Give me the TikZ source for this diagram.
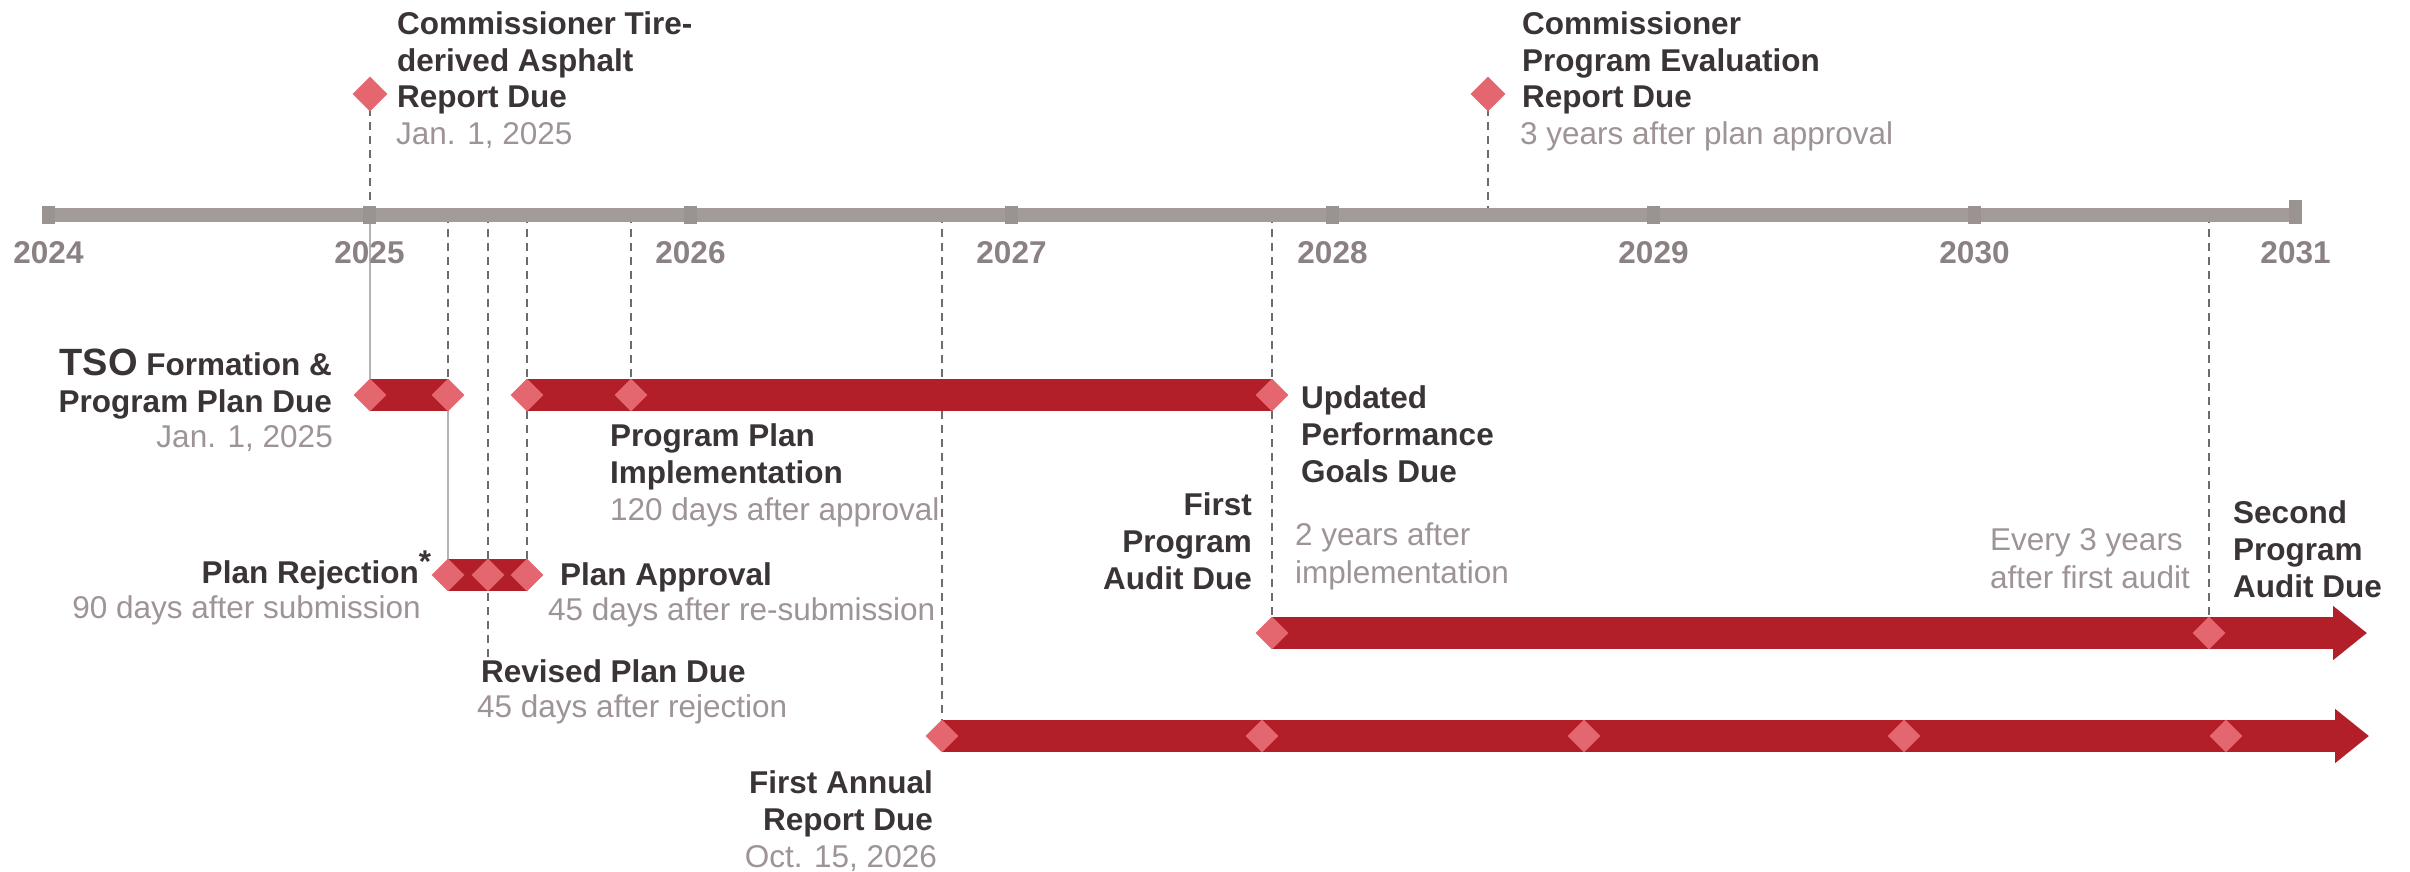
\documentclass[tikz,border=0pt]{standalone}
\usepackage{fontspec}
\setmainfont{Liberation Sans}
\usetikzlibrary{shapes.geometric,arrows.meta,calc}
\definecolor{barred}{RGB}{179,31,41}
\definecolor{diafill}{RGB}{228,102,111}
\definecolor{axiscol}{RGB}{163,154,154}
\definecolor{tickcol}{RGB}{155,146,146}
\definecolor{yearcol}{RGB}{140,129,130}
\definecolor{darktext}{RGB}{58,52,53}
\definecolor{graytext}{RGB}{158,148,149}
\definecolor{dashcol}{RGB}{108,108,108}
\definecolor{solidcol}{RGB}{180,180,180}
\begin{document}
\begin{tikzpicture}[x=1pt,y=-1pt,
  bold/.style={font=\fontsize{31.5}{36.8}\selectfont\bfseries, text=darktext, inner sep=0pt},
  sub/.style={font=\fontsize{31.5}{37.5}\selectfont, text=graytext, inner sep=0pt},
  yr/.style={font=\fontsize{31.5}{36}\selectfont\bfseries, text=yearcol, inner sep=0pt, anchor=base},
  dia/.style={shape=diamond, fill=diafill, minimum width=33pt, minimum height=33pt, inner sep=0pt},
  bigdia/.style={dia, minimum width=35pt, minimum height=35pt},
  bar/.style={draw=barred, line width=32pt, line cap=butt},
  dline/.style={draw=dashcol, line width=2.2pt, dash pattern=on 8pt off 6pt},
  sline/.style={draw=solidcol, line width=2.4pt},
  tick/.style={shape=rectangle, fill=tickcol, minimum width=13pt, minimum height=18pt, inner sep=0pt},
]
\useasboundingbox (0,0) rectangle (2410,872);
\fill[white] (0,0) rectangle (2410,872);

% ---------- coordinates ----------
\foreach \yr [count=\i from 0] in {2024,...,2031}
  \coordinate (ax\yr) at ({48.5+321*\i},215);
\foreach \x in {370,448,488,527,631,942,1272,1488,2209}
  \coordinate (a\x) at (\x,215);
\coordinate (pTire) at (370,94);
\coordinate (pEval) at (1488,94);
\coordinate (pTso1) at (370,395);
\coordinate (pTso2) at (448,395);
\coordinate (pImp0) at (527,395);
\coordinate (pImp1) at (631,395);
\coordinate (pImp2) at (1272,395);
\coordinate (pRej1) at (448,575);
\coordinate (pRej2) at (488,575);
\coordinate (pRej3) at (527,575);
\coordinate (pRevEnd) at (488,657);
\coordinate (pAud1) at (1272,633);
\coordinate (pAud2) at (2209,633);
\coordinate (pAudTip) at (2367,633);
\coordinate (pAnn1) at (942,736);
\coordinate (pAnn2) at (1262,736);
\coordinate (pAnn3) at (1584,736);
\coordinate (pAnn4) at (1904,736);
\coordinate (pAnn5) at (2226,736);
\coordinate (pAnnTip) at (2369,736);

% ---------- vertical guide lines ----------
\draw[dline] (pTire) -- (a370);
\draw[dline] (pEval) -- (a1488);
\draw[sline] (a370) -- (pTso1);
\draw[dline] (a448) -- (pTso2);
\draw[sline] (pTso2) -- (pRej1);
\draw[dline] (a488) -- (pRevEnd);
\draw[dline] (a527) -- (pRej3);
\draw[dline] (a631) -- (pImp1);
\draw[dline] (a942) -- (pAnn1);
\draw[dline] (a1272) -- (pAud1);
\draw[dline] (a2209) -- (pAud2);

% ---------- axis ----------
\draw[draw=axiscol, line width=14pt] (ax2024) -- (ax2031);
\foreach \yr in {2024,...,2030}
  \node[tick] (tk\yr) at (ax\yr) {};
\node[tick, minimum height=24pt] (tk2031) at ($(ax2031)+(0,-3)$) {};
\foreach \yr [count=\i from 0] in {2024,...,2031}
  \node[yr] (lab\yr) at ({48.5+321*\i},263) {\yr};

% ---------- bars ----------
\draw[bar] (pTso1) -- (pTso2);
\draw[bar] (pImp0) -- (pImp2);
\draw[bar] (pRej1) -- (pRej3);
\draw[bar, -{Triangle[length=34pt, width=52pt]}] (pAud1) -- (pAudTip);
\draw[bar, -{Triangle[length=34pt, width=52pt]}] (pAnn1) -- (pAnnTip);

% ---------- diamonds ----------
\node[bigdia] (dTire) at (pTire) {};
\node[bigdia] (dEval) at (pEval) {};
\node[dia] (dTso1) at (pTso1) {};
\node[dia] (dTso2) at (pTso2) {};
\node[dia] (dImp0) at (pImp0) {};
\node[dia] (dImp1) at (pImp1) {};
\node[dia] (dImp2) at (pImp2) {};
\node[dia] (dRej1) at (pRej1) {};
\node[dia] (dRej2) at (pRej2) {};
\node[dia] (dRej3) at (pRej3) {};
\node[dia] (dAud1) at (pAud1) {};
\node[dia] (dAud2) at (pAud2) {};
\node[dia] (dAnn1) at (pAnn1) {};
\node[dia] (dAnn2) at (pAnn2) {};
\node[dia] (dAnn3) at (pAnn3) {};
\node[dia] (dAnn4) at (pAnn4) {};
\node[dia] (dAnn5) at (pAnn5) {};

% ---------- labels (base anchor = baseline of last line) ----------
\node[bold, align=left, anchor=base west] (tTire) at (397,108) {Commissioner Tire-\\derived Asphalt\\Report Due};
\node[sub, anchor=base west] (sTire) at (396,145) {Jan. 1, 2025};

\node[bold, align=left, anchor=base west] (tEval) at (1522,108) {Commissioner\\Program Evaluation\\Report Due};
\node[sub, anchor=base west] (sEval) at (1520,145) {3 years after plan approval};

\node[bold, align=right, anchor=base east] (tTso) at (332,412) {{\fontsize{38}{40}\selectfont TSO} Formation \&\\Program Plan Due};
\node[sub, anchor=base east] (sTso) at (333,447) {Jan. 1, 2025};

\node[bold, align=left, anchor=base west] (tImp) at (610,483) {Program Plan\\Implementation};
\node[sub, anchor=base west] (sImp) at (610,520) {120 days after approval};

\node[bold, anchor=base east] (tRej) at (419,583) {Plan Rejection\rlap{\raisebox{11pt}{*}}};
\node[sub, anchor=base east] (sRej) at (421,618) {90 days after submission};

\node[bold, anchor=base west] (tApp) at (560,585) {Plan Approval};
\node[sub, anchor=base west] (sApp) at (548,620) {45 days after re-submission};

\node[bold, anchor=base west] (tRev) at (481,682) {Revised Plan Due};
\node[sub, anchor=base west] (sRev) at (477,717) {45 days after rejection};

\node[bold, align=left, anchor=base west] (tUpd) at (1301,482) {Updated\\Performance\\Goals Due};

\node[bold, align=right, anchor=base east] (tAud1) at (1252,589) {First\\Program\\Audit Due};
\node[sub, align=left, anchor=base west] (sAud1) at (1295,583) {2 years after\\implementation};

\node[sub, align=left, anchor=base west] (sAud2) at (1990,588) {Every 3 years\\after first audit};
\node[bold, align=left, anchor=base west] (tAud2) at (2233,597) {Second\\Program\\Audit Due};

\node[bold, align=right, anchor=base east] (tAnn) at (933,830) {First Annual\\Report Due};
\node[sub, anchor=base east] (sAnn) at (937,867) {Oct. 15, 2026};
\end{tikzpicture}
\end{document}
